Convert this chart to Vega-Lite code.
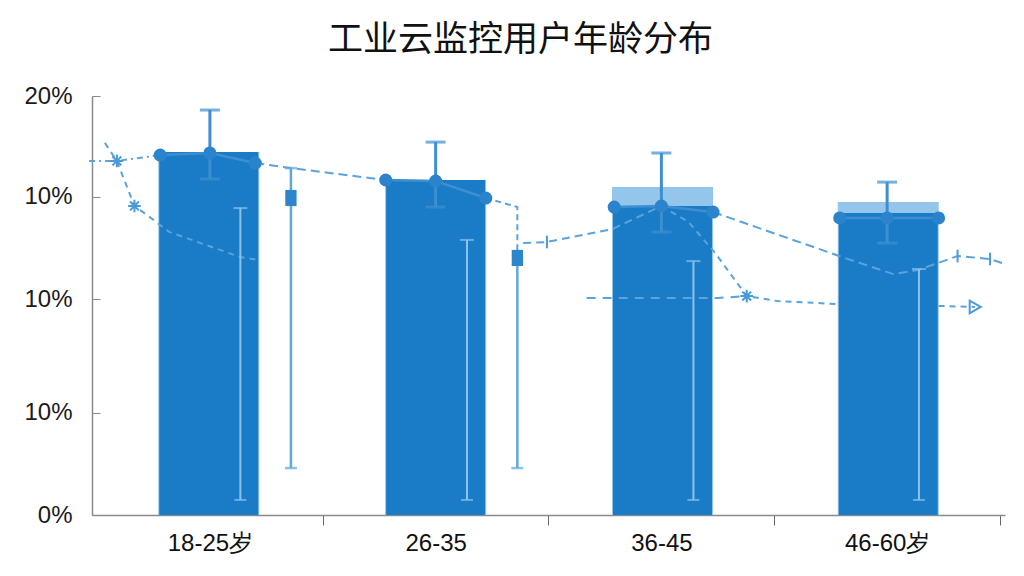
{
  "$schema": "https://vega.github.io/schema/vega-lite/v6.json",
  "autosize": "none",
  "width": 913,
  "height": 419,
  "padding": {"left": 92, "top": 96, "right": 19, "bottom": 61},
  "background": "white",
  "title": {
    "text": "工业云监控用户年龄分布",
    "font": "Noto Sans CJK SC",
    "fontSize": 35,
    "fontWeight": "normal",
    "color": "#111111",
    "offset": 26,
    "dx": -28
  },
  "config": {"view": {"stroke": null}, "font": "Liberation Sans"},
  "datasets": {
    "bars": [
      {"age": "18-25岁", "pos": 0.495, "v": 17.33, "light": 17.33},
      {"age": "26-35", "pos": 1.5, "v": 15.99, "light": 15.99},
      {"age": "36-45", "pos": 2.505, "v": 14.75, "light": 15.66},
      {"age": "46-60岁", "pos": 3.505, "v": 14.42, "light": 14.94}
    ],
    "err": [
      {"age": "18-25岁", "pos": 0.5, "lo": 16.04, "hi": 19.33},
      {"age": "26-35", "pos": 1.5, "lo": 14.7, "hi": 17.8},
      {"age": "36-45", "pos": 2.5, "lo": 13.51, "hi": 17.28},
      {"age": "46-60岁", "pos": 3.5, "lo": 12.98, "hi": 15.89}
    ],
    "whisk": [
      {"pos": 0.635, "lo": 0.72, "hi": 14.65},
      {"pos": 1.639, "lo": 0.72, "hi": 13.13},
      {"pos": 2.642, "lo": 0.72, "hi": 12.12},
      {"pos": 3.641, "lo": 0.72, "hi": 11.74}
    ],
    "sq": [
      {"pos": 0.859, "lo": 2.24, "hi": 16.56, "mid": 15.13},
      {"pos": 1.862, "lo": 2.24, "hi": 12.27, "mid": 12.27}
    ],
    "tops": [
      {"bar": "18-25岁", "pos": 0.28, "v": 17.18},
      {"bar": "18-25岁", "pos": 0.5, "v": 17.28},
      {"bar": "18-25岁", "pos": 0.701, "v": 16.8},
      {"bar": "26-35", "pos": 1.279, "v": 15.99},
      {"bar": "26-35", "pos": 1.5, "v": 15.94},
      {"bar": "26-35", "pos": 1.722, "v": 15.13},
      {"bar": "36-45", "pos": 2.291, "v": 14.7},
      {"bar": "36-45", "pos": 2.5, "v": 14.75},
      {"bar": "36-45", "pos": 2.729, "v": 14.46},
      {"bar": "46-60岁", "pos": 3.29, "v": 14.18},
      {"bar": "46-60岁", "pos": 3.5, "v": 14.18},
      {"bar": "46-60岁", "pos": 3.728, "v": 14.18}
    ],
    "lines": [
      {"series": "A1", "ord": 1, "pos": -0.035, "v": 16.9},
      {"series": "A1", "ord": 2, "pos": 0.088, "v": 16.9},
      {"series": "A1", "ord": 3, "pos": 0.28, "v": 17.18},
      {"series": "A2", "ord": 1, "pos": 0.701, "v": 16.8},
      {"series": "A2", "ord": 2, "pos": 0.859, "v": 16.56},
      {"series": "A2", "ord": 3, "pos": 1.279, "v": 15.99},
      {"series": "A3", "ord": 1, "pos": 1.722, "v": 15.13},
      {"series": "A3", "ord": 2, "pos": 1.862, "v": 14.7},
      {"series": "A3", "ord": 3, "pos": 1.862, "v": 12.27},
      {"series": "A4", "ord": 1, "pos": 1.888, "v": 12.98},
      {"series": "A4", "ord": 2, "pos": 1.993, "v": 13.03},
      {"series": "A4", "ord": 3, "pos": 2.283, "v": 13.65},
      {"series": "A4", "ord": 4, "pos": 2.5, "v": 14.75},
      {"series": "A5", "ord": 1, "pos": 2.729, "v": 14.46},
      {"series": "A5", "ord": 2, "pos": 3.299, "v": 12.32},
      {"series": "A5", "ord": 3, "pos": 3.527, "v": 11.5},
      {"series": "A5", "ord": 4, "pos": 3.636, "v": 11.69},
      {"series": "A5", "ord": 5, "pos": 3.812, "v": 12.36},
      {"series": "A5", "ord": 6, "pos": 3.956, "v": 12.22},
      {"series": "A5", "ord": 7, "pos": 4.009, "v": 12.03},
      {"series": "B1", "ord": 1, "pos": 0.035, "v": 17.76},
      {"series": "B1", "ord": 2, "pos": 0.088, "v": 16.9},
      {"series": "B1", "ord": 3, "pos": 0.166, "v": 14.75},
      {"series": "B1", "ord": 4, "pos": 0.245, "v": 14.13},
      {"series": "B1", "ord": 5, "pos": 0.32, "v": 13.51},
      {"series": "B1", "ord": 6, "pos": 0.635, "v": 12.31},
      {"series": "B1", "ord": 7, "pos": 0.714, "v": 12.17},
      {"series": "B2", "ord": 1, "pos": 2.5, "v": 14.75},
      {"series": "B2", "ord": 2, "pos": 2.62, "v": 13.99},
      {"series": "B2", "ord": 3, "pos": 2.738, "v": 12.51},
      {"series": "B2", "ord": 4, "pos": 2.878, "v": 10.45},
      {"series": "B2", "ord": 5, "pos": 3.014, "v": 10.21},
      {"series": "B2", "ord": 6, "pos": 3.281, "v": 10.07},
      {"series": "B3", "ord": 1, "pos": 2.169, "v": 10.36},
      {"series": "B3", "ord": 2, "pos": 2.751, "v": 10.36},
      {"series": "B3", "ord": 3, "pos": 2.878, "v": 10.45},
      {"series": "B4", "ord": 1, "pos": 3.728, "v": 9.98},
      {"series": "B4", "ord": 2, "pos": 3.89, "v": 9.93}
    ],
    "marks": [
      {"kind": "asterisk", "pos": 0.088, "v": 16.9},
      {"kind": "asterisk", "pos": 0.166, "v": 14.75},
      {"kind": "asterisk", "pos": 2.878, "v": 10.45},
      {"kind": "bar", "pos": 1.993, "v": 13.03},
      {"kind": "bar", "pos": 3.812, "v": 12.36},
      {"kind": "bar", "pos": 3.956, "v": 12.22},
      {"kind": "triangle", "pos": 3.89, "v": 9.93}
    ]
  },
  "encoding": {
    "x": {
      "field": "pos",
      "type": "quantitative",
      "scale": {"domain": [0, 4], "nice": false, "zero": false},
      "axis": {
        "title": null,
        "grid": false,
        "values": [0.5, 1, 1.5, 2, 2.5, 3, 3.5, 4],
        "labelExpr": "datum.value == 0.5 ? '18-25岁' : datum.value == 1.5 ? '26-35' : datum.value == 2.5 ? '36-45' : datum.value == 3.5 ? '46-60岁' : ''",
        "labelOverlap": false,
        "labelFlush": false,
        "labelFontSize": 24,
        "labelColor": "#111111",
        "labelPadding": 6,
        "tickSize": 10,
        "tickColor": "#666666",
        "tickOpacity": {"condition": {"test": "datum.value % 1 == 0", "value": 1}, "value": 0},
        "domainColor": "#8a8a8a",
        "domainWidth": 1.5
      }
    }
  },
  "layer": [
    {
      "data": {"name": "bars"},
      "mark": {"type": "bar", "orient": "vertical", "width": 101, "color": "#93c6ea"},
      "encoding": {
        "y": {
          "field": "light",
          "type": "quantitative",
          "scale": {"domain": [0, 20], "nice": false},
          "axis": {
            "title": null,
            "grid": false,
            "values": [0, 4.87, 10.31, 15.2, 20],
            "labelExpr": "datum.value == 0 ? '0%' : datum.value == 20 ? '20%' : '10%'",
            "labelFontSize": 24,
            "labelColor": "#1a1a1a",
            "labelPadding": 28,
            "tickSize": -8,
            "tickColor": "#8a8a8a",
            "domainColor": "#8a8a8a",
            "domainWidth": 1.5
          }
        }
      }
    },
    {
      "data": {"name": "bars"},
      "mark": {"type": "bar", "orient": "vertical", "width": 99, "color": "#1a7cc7"},
      "encoding": {"y": {"field": "v", "type": "quantitative"}}
    },
    {
      "data": {"name": "lines"},
      "mark": {"type": "line", "strokeWidth": 2, "color": "#5aa3dc", "clip": false},
      "encoding": {
        "y": {"field": "v", "type": "quantitative"},
        "order": {"field": "ord"},
        "strokeDash": {
          "field": "series",
          "type": "nominal",
          "legend": null,
          "scale": {
            "domain": ["A1", "A2", "A3", "A4", "A5", "B1", "B2", "B3", "B4"],
            "range": [[6, 4, 2, 4], [9, 5], [6, 4], [8, 5], [9, 5], [6, 5], [6, 5], [9, 7], [6, 5]]
          }
        }
      }
    },
    {
      "data": {"name": "whisk"},
      "mark": {"type": "rule", "strokeWidth": 2, "color": "#8cc2ea"},
      "encoding": {"y": {"field": "lo", "type": "quantitative"}, "y2": {"field": "hi"}}
    },
    {
      "data": {"name": "whisk"},
      "mark": {"type": "tick", "orient": "horizontal", "size": 14, "thickness": 2, "color": "#8cc2ea"},
      "encoding": {"y": {"field": "hi", "type": "quantitative"}}
    },
    {
      "data": {"name": "whisk"},
      "mark": {"type": "tick", "orient": "horizontal", "size": 12, "thickness": 2, "color": "#8cc2ea"},
      "encoding": {"y": {"field": "lo", "type": "quantitative"}}
    },
    {
      "data": {"name": "sq"},
      "mark": {"type": "rule", "strokeWidth": 2.5, "color": "#5ea8df"},
      "encoding": {"y": {"field": "lo", "type": "quantitative"}, "y2": {"field": "hi"}}
    },
    {
      "data": {"name": "sq"},
      "mark": {"type": "tick", "orient": "horizontal", "size": 12, "thickness": 2.5, "color": "#5ea8df"},
      "encoding": {"y": {"field": "lo", "type": "quantitative"}}
    },
    {
      "data": {"name": "sq"},
      "transform": [{"filter": "datum.hi > datum.mid"}],
      "mark": {"type": "tick", "orient": "horizontal", "size": 12, "thickness": 2.5, "color": "#5ea8df"},
      "encoding": {"y": {"field": "hi", "type": "quantitative"}}
    },
    {
      "data": {"name": "sq"},
      "mark": {"type": "point", "shape": "M-0.7,-1H0.7V1H-0.7Z", "filled": true, "size": 260, "color": "#2d86cc", "opacity": 1},
      "encoding": {"y": {"field": "mid", "type": "quantitative"}}
    },
    {
      "data": {"name": "err"},
      "mark": {"type": "rule", "strokeWidth": 3, "color": "#3d8fd2"},
      "encoding": {"y": {"field": "lo", "type": "quantitative"}, "y2": {"field": "hi"}}
    },
    {
      "data": {"name": "err"},
      "mark": {"type": "tick", "orient": "horizontal", "size": 20, "thickness": 3, "color": "#3d8fd2"},
      "encoding": {"y": {"field": "hi", "type": "quantitative"}}
    },
    {
      "data": {"name": "err"},
      "mark": {"type": "tick", "orient": "horizontal", "size": 20, "thickness": 3, "color": "#3d8fd2"},
      "encoding": {"y": {"field": "lo", "type": "quantitative"}}
    },
    {
      "data": {"name": "tops"},
      "mark": {"type": "line", "strokeWidth": 2.5, "color": "#3d8fd2"},
      "encoding": {"y": {"field": "v", "type": "quantitative"}, "detail": {"field": "bar"}}
    },
    {
      "data": {"name": "tops"},
      "mark": {"type": "point", "shape": "circle", "filled": true, "size": 170, "color": "#2b84cb", "opacity": 1},
      "encoding": {"y": {"field": "v", "type": "quantitative"}}
    },
    {
      "data": {"name": "marks"},
      "mark": {"type": "point", "filled": false, "size": 160, "strokeWidth": 2, "color": "#4a9ad8", "opacity": 1},
      "encoding": {
        "y": {"field": "v", "type": "quantitative"},
        "shape": {
          "field": "kind",
          "type": "nominal",
          "legend": null,
          "scale": {
            "domain": ["asterisk", "bar", "triangle"],
            "range": ["M-1,0L1,0M0,-1L0,1M-0.7,-0.7L0.7,0.7M-0.7,0.7L0.7,-0.7", "M0,-1L0,1", "triangle-right"]
          }
        }
      }
    }
  ]
}
